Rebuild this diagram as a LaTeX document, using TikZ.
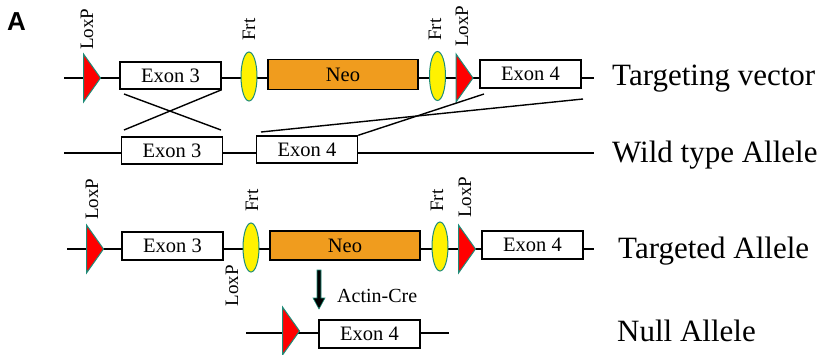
\documentclass[tikz,border=0pt]{standalone}
\usepackage{fontspec}
\setmainfont{Liberation Serif}
\newfontfamily\panelfont{Liberation Sans}
\usetikzlibrary{shapes.geometric,calc}
\definecolor{neoorange}{RGB}{240,156,30}
\definecolor{sitegreen}{RGB}{30,140,120}

\begin{document}
\begin{tikzpicture}[x=1pt,y=-1pt,
  backbone/.style={line width=2.8pt},
  exon/.style={draw, line width=1.4pt, fill=white, minimum width=101pt,
    minimum height=27pt, inner sep=0, font=\fontsize{20.5}{20.5}\selectfont},
  neo/.style={exon, fill=neoorange, minimum width=150pt, minimum height=30pt},
  frt/.style={ellipse, draw=sitegreen, fill=yellow, line width=1pt,
    minimum width=16pt, minimum height=49pt, inner sep=0},
  site/.style={rotate=90, inner sep=0, font=\fontsize{19}{19}\selectfont},
  allele/.style={anchor=base west, inner sep=0, font=\fontsize{31}{31}\selectfont},
  loxp/.pic={\filldraw[fill=red, draw=sitegreen, line width=1pt]
    (-8.5,-24) -- (8.5,0) -- (-8.5,24) -- cycle;},
  crossline/.style={line width=1.4pt}
]
\useasboundingbox (0,0) rectangle (827,354);

\node[font=\panelfont\bfseries\fontsize{26}{26}\selectfont, inner sep=0] (panel) at (16.5,21.5) {A};

% ---- Targeting vector ----
\coordinate (v-l) at (64,78);
\coordinate (v-r) at (594,78);
\draw[backbone] (v-l) -- (v-r);
\pic at (92,78) {loxp};
\node[exon] (v-e3) at (170.5,75.5) {Exon 3};
\node[frt] (v-f1) at (249,76.5) {};
\node[neo] (v-neo) at (343,74.5) {Neo};
\node[frt] (v-f2) at (437.5,76) {};
\pic at (464.5,78) {loxp};
\node[exon, minimum height=28pt] (v-e4) at (530.5,74) {Exon 4};
\node[site, anchor=west] (v-lab1) at (87,50) {LoxP};
\node[site, anchor=west] (v-lab2) at (249,41) {Frt};
\node[site, anchor=west] (v-lab3) at (435,41) {Frt};
\node[site, anchor=west] (v-lab4) at (462,47) {LoxP};
\node[allele] (v-name) at (612,85) {Targeting vector};

% ---- Wild type allele ----
\coordinate (w-l) at (64,153);
\coordinate (w-r) at (594,153);
\draw[backbone] (w-l) -- (w-r);
\node[exon] (w-e3) at (172,150.5) {Exon 3};
\node[exon] (w-e4) at (307,149.5) {Exon 4};
\node[allele] (w-name) at (612,162) {Wild type Allele};

% ---- homologous recombination crosses ----
\coordinate (c1a) at (124,94);
\coordinate (c1b) at (221,130);
\coordinate (c2a) at (124,130);
\coordinate (c3a) at (484,94);
\coordinate (c4a) at (583,99);
\coordinate (c4b) at (261,132);
\draw[crossline] (v-e3.south east) -- (c2a);
\draw[crossline] (c1a) -- (c1b);
\draw[crossline] (c3a) -- (w-e4.north east);
\draw[crossline] (c4a) -- (c4b);

% ---- Targeted allele ----
\coordinate (t-l) at (67,249);
\coordinate (t-r) at (594,249);
\draw[backbone] (t-l) -- (t-r);
\pic at (95,249) {loxp};
\node[exon, minimum height=28pt] (t-e3) at (172.5,246) {Exon 3};
\node[frt] (t-f1) at (251,247.5) {};
\node[neo, minimum height=29pt] (t-neo) at (345,245.5) {Neo};
\node[frt] (t-f2) at (440,246.5) {};
\pic at (467,249) {loxp};
\node[exon, minimum height=28pt] (t-e4) at (532.5,245) {Exon 4};
\node[site, anchor=west] (t-lab1) at (92,220) {LoxP};
\node[site, anchor=west] (t-lab2) at (252,212) {Frt};
\node[site, anchor=west] (t-lab3) at (437,212) {Frt};
\node[site, anchor=west] (t-lab4) at (465,218) {LoxP};
\node[site, anchor=east] (t-lab5) at (232,265) {LoxP};
\node[allele] (t-name) at (618,258) {Targeted Allele};

% ---- Cre excision arrow ----
\filldraw[fill=black, draw=sitegreen, line width=0.6pt]
  (317,270) -- (321,270) -- (321,298) -- (325,298) -- (319,309)
  -- (313,298) -- (317,298) -- cycle;
\node[anchor=west, inner sep=0, font=\fontsize{20}{20}\selectfont] (cre) at (337,296) {Actin-Cre};

% ---- Null allele ----
\coordinate (n-l) at (246,333);
\coordinate (n-r) at (449,333);
\draw[backbone] (n-l) -- (n-r);
\pic at (291,331) {loxp};
\node[exon, minimum height=28pt] (n-e4) at (369.5,334) {Exon 4};
\node[allele] (n-name) at (617,341) {Null Allele};
\end{tikzpicture}
\end{document}
